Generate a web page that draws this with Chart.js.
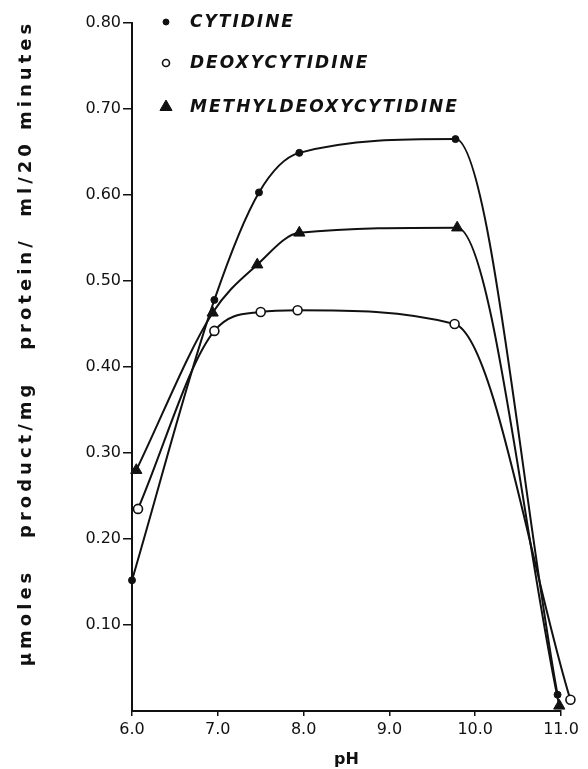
<!DOCTYPE html>
<html>
<head>
<meta charset="utf-8">
<script src="https://cdn.jsdelivr.net/npm/chart.js@4/dist/chart.umd.min.js"></script>
<style>
  html, body { margin: 0; padding: 0; background: #fff; }
  #chart { display: block; }
</style>
</head>
<body>
<canvas id="chart" width="588" height="769"></canvas>
<script>
// values
const seriesNames = ["CYTIDINE", "DEOXYCYTIDINE", "METHYLDEOXYCYTIDINE"];

const cytidinePH = [6.0, 6.96, 7.48, 7.95, 9.77, 10.96];
const cytidine   = [0.152, 0.478, 0.603, 0.649, 0.665, 0.019];

const deoxyPH = [6.07, 6.96, 7.5, 7.93, 9.76, 11.11];
const deoxy   = [0.235, 0.442, 0.464, 0.466, 0.450, 0.013];

const methylPH = [6.05, 6.94, 7.46, 7.95, 9.79, 10.98];
const methyl   = [0.280, 0.463, 0.519, 0.556, 0.562, 0.006];

const xTicks = [6, 7, 8, 9, 10, 11];
const yTicks = [0.1, 0.2, 0.3, 0.4, 0.5, 0.6, 0.7, 0.8];

const yTitle = "\u00b5moles   product/mg   protein/  ml/20 minutes";
const xTitle = "pH";

function pts(xs, ys) {
    return xs.map(function(x, i) { return {x: x, y: ys[i]}; });
}

const ink = "#111";

// the open circle at pH 11 sits just past the axis end, let markers show there
const looseArea = {
    id: "looseArea",
    afterLayout: function(chart) {
        chart.chartArea.right = chart.width;
    }
};

// rotated y title with wide letter spacing, like the typed original
const yTitlePlugin = {
    id: "yTitle",
    afterDraw: function(chart) {
        const ctx = chart.ctx;
        ctx.save();
        ctx.translate(26, 343);
        ctx.rotate(-Math.PI / 2);
        ctx.font = "bold 18px 'DejaVu Sans'";
        ctx.letterSpacing = "4px";
        ctx.fillStyle = ink;
        ctx.textAlign = "center";
        ctx.textBaseline = "middle";
        ctx.fillText(yTitle, 0, 0);
        ctx.restore();
    }
};

// legend block in the upper left of the plot
const legendPlugin = {
    id: "symbolLegend",
    afterDraw: function(chart) {
        const ctx = chart.ctx;
        const rows = [22, 63, 107];
        chart.data.datasets.forEach(function(ds, i) {
            const y = rows[i];
            ctx.save();
            ctx.fillStyle = ds.pointBackgroundColor;
            ctx.strokeStyle = ds.pointBorderColor;
            ctx.lineWidth = ds.pointBorderWidth;
            Chart.helpers.drawPoint(ctx, {
                pointStyle: ds.pointStyle,
                radius: ds.legendRadius,
                borderWidth: ds.pointBorderWidth
            }, 166, y);
            ctx.restore();
            ctx.save();
            ctx.font = "oblique bold 17px 'DejaVu Sans'";
            ctx.letterSpacing = "2px";
            ctx.fillStyle = ink;
            ctx.textAlign = "left";
            ctx.textBaseline = "middle";
            ctx.fillText(ds.label, 190, y + 1);
            ctx.restore();
        });
    }
};

new Chart(document.getElementById("chart"), {
    type: "line",
    data: {
        datasets: [{
            label: seriesNames[0],
            data: pts(cytidinePH, cytidine),
            borderColor: ink,
            borderWidth: 2,
            pointStyle: "circle",
            pointRadius: 3.5,
            legendRadius: 3,
            pointBackgroundColor: ink,
            pointBorderColor: ink,
            pointBorderWidth: 1,
            cubicInterpolationMode: "monotone",
            clip: false
        }, {
            label: seriesNames[1],
            data: pts(deoxyPH, deoxy),
            borderColor: ink,
            borderWidth: 2,
            pointStyle: "circle",
            pointRadius: 4.5,
            legendRadius: 3.5,
            pointBackgroundColor: "#fff",
            pointBorderColor: ink,
            pointBorderWidth: 1.6,
            cubicInterpolationMode: "monotone",
            clip: false
        }, {
            label: seriesNames[2],
            data: pts(methylPH, methyl),
            borderColor: ink,
            borderWidth: 2,
            pointStyle: "triangle",
            pointRadius: 6.5,
            legendRadius: 7,
            pointBackgroundColor: ink,
            pointBorderColor: ink,
            pointBorderWidth: 1,
            cubicInterpolationMode: "monotone",
            clip: false
        }]
    },
    options: {
        responsive: false,
        animation: false,
        devicePixelRatio: 1,
        layout: { padding: { left: 0, top: 23, right: 27, bottom: 0 } },
        plugins: {
            legend: { display: false },
            tooltip: { enabled: false }
        },
        scales: {
            x: {
                type: "linear",
                min: 6,
                max: 11,
                afterBuildTicks: function(scale) {
                    scale.ticks = xTicks.map(function(v) { return {value: v}; });
                },
                afterFit: function(scale) { scale.height = 58; },
                ticks: {
                    color: ink,
                    padding: 4,
                    font: { family: "'DejaVu Sans'", size: 16 },
                    callback: function(v) { return v.toFixed(1); }
                },
                grid: {
                    drawOnChartArea: false,
                    drawTicks: true,
                    tickLength: 5,
                    color: ink,
                    lineWidth: 1.5
                },
                border: { display: true, color: ink, width: 2 },
                title: {
                    display: true,
                    text: xTitle,
                    color: ink,
                    padding: { top: 2, bottom: 0 },
                    font: { family: "'DejaVu Sans'", size: 16, weight: "bold" }
                }
            },
            y: {
                type: "linear",
                min: 0,
                max: 0.8,
                afterBuildTicks: function(scale) {
                    scale.ticks = yTicks.map(function(v) { return {value: v}; });
                },
                afterFit: function(scale) { scale.width = 132; },
                ticks: {
                    color: ink,
                    padding: 2,
                    font: { family: "'DejaVu Sans'", size: 16 },
                    callback: function(v) { return v.toFixed(2); }
                },
                grid: {
                    drawOnChartArea: false,
                    drawTicks: true,
                    tickLength: 9,
                    color: ink,
                    lineWidth: 1.5
                },
                border: { display: true, color: ink, width: 2 }
            }
        }
    },
    plugins: [looseArea, yTitlePlugin, legendPlugin]
});
</script>
</body>
</html>
